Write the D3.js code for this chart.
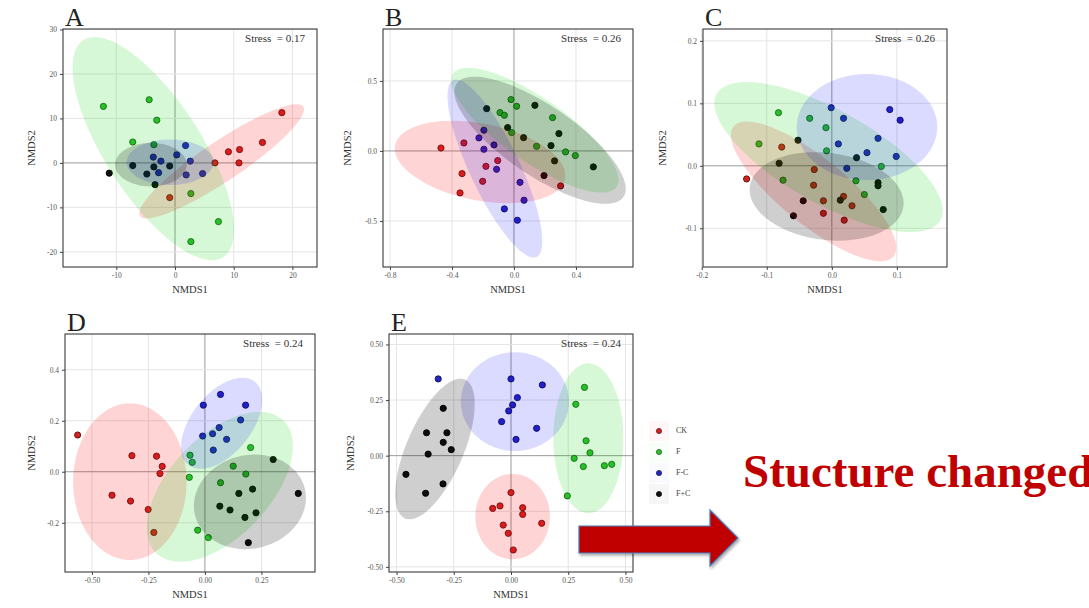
<!DOCTYPE html>
<html><head><meta charset="utf-8">
<script src="https://cdn.jsdelivr.net/npm/d3@7"></script>
<style>
html,body{margin:0;padding:0;background:#fff;}
svg{display:block;font-family:"Liberation Serif","Times New Roman",serif;}
</style></head><body>
<svg id="fig" width="1089" height="608"></svg>
<script>
// ---- groups ----
const groups = ["CK", "F", "F-C", "F+C"];

// ---- NMDS site scores, [NMDS1, NMDS2] per group ----
const ptsA_CK  = [[18.2,11.3],[14.9,4.6],[11.0,3.0],[9.1,2.5],[10.9,0.0],[6.8,0.0],[-0.9,-7.8]];
const ptsA_F   = [[-12.2,12.7],[-4.4,14.2],[-3.1,9.6],[-7.2,4.7],[-3.6,4.1],[2.7,-6.9],[7.4,-13.2],[2.7,-17.7]];
const ptsA_FC  = [[1.8,3.9],[0.3,1.8],[-3.7,1.3],[-2.4,0.4],[2.6,0.4],[-2.8,-2.2],[1.9,-2.7],[4.7,-2.4]];
const ptsA_FpC = [[-11.2,-2.3],[-7.2,-0.6],[-3.6,-0.9],[-4.8,-2.5],[-3.4,-4.9],[-0.9,-0.7]];

const ptsB_CK  = [[-0.471,0.021],[-0.323,0.057],[-0.335,-0.162],[-0.348,-0.300],[-0.181,-0.110],[-0.202,-0.217],[-0.105,-0.069],[0.301,-0.250]];
const ptsB_F   = [[-0.019,0.367],[0.017,0.319],[-0.090,0.274],[-0.062,0.255],[-0.015,0.131],[0.249,0.238],[0.146,0.033],[0.333,-0.007],[0.396,-0.033]];
const ptsB_FC  = [[-0.194,0.148],[-0.226,0.093],[-0.194,0.012],[-0.129,0.043],[-0.112,-0.131],[0.039,-0.224],[0.065,-0.352],[-0.062,-0.414],[0.022,-0.495]];
const ptsB_FpC = [[-0.176,0.302],[-0.041,0.167],[0.135,0.326],[0.062,0.095],[0.290,0.124],[0.239,0.038],[0.262,-0.071],[0.194,-0.176],[0.512,-0.114]];

const ptsC_CK  = [[-0.131,-0.021],[-0.077,0.030],[-0.027,-0.006],[-0.028,-0.031],[-0.013,-0.056],[-0.013,-0.076],[0.031,-0.064],[0.019,-0.087],[0.018,-0.049]];
const ptsC_F   = [[-0.082,0.085],[-0.034,0.076],[-0.009,0.061],[-0.112,0.035],[-0.008,0.024],[-0.075,-0.023],[0.037,-0.024],[0.076,-0.001],[0.050,-0.046]];
const ptsC_FC  = [[-0.001,0.093],[0.018,0.076],[0.089,0.090],[0.105,0.073],[0.071,0.044],[0.010,0.035],[0.054,0.021],[0.099,0.015],[0.023,-0.004]];
const ptsC_FpC = [[-0.052,0.041],[-0.081,0.004],[-0.044,-0.056],[-0.059,-0.080],[0.013,-0.055],[0.038,0.013],[0.071,-0.027],[0.071,-0.032],[0.079,-0.070]];

const ptsD_CK  = [[-0.563,0.144],[-0.323,0.063],[-0.214,0.061],[-0.189,0.021],[-0.199,-0.007],[-0.411,-0.092],[-0.329,-0.115],[-0.251,-0.148],[-0.226,-0.238]];
const ptsD_F   = [[-0.066,0.065],[-0.056,0.037],[-0.069,-0.022],[0.202,0.095],[0.125,0.022],[0.181,-0.009],[0.069,-0.043],[-0.032,-0.229],[0.015,-0.258]];
const ptsD_FC  = [[0.069,0.303],[-0.007,0.261],[0.180,0.261],[0.158,0.203],[0.063,0.173],[0.034,0.149],[-0.010,0.140],[0.096,0.127],[0.037,0.085]];
const ptsD_FpC = [[0.302,0.048],[0.413,-0.085],[0.211,-0.068],[0.150,-0.085],[0.066,-0.135],[0.111,-0.150],[0.177,-0.179],[0.226,-0.161],[0.192,-0.278]];

const ptsE_CK  = [[0.000,-0.166],[-0.080,-0.237],[-0.048,-0.226],[0.051,-0.234],[0.051,-0.264],[0.134,-0.304],[-0.034,-0.312],[-0.012,-0.349],[0.010,-0.424]];
const ptsE_F   = [[0.321,0.307],[0.283,0.231],[0.328,0.067],[0.345,0.013],[0.276,-0.012],[0.316,-0.049],[0.408,-0.045],[0.440,-0.039],[0.246,-0.181]];
const ptsE_FC  = [[-0.318,0.345],[0.000,0.345],[0.137,0.318],[0.028,0.261],[0.007,0.228],[-0.010,0.201],[-0.041,0.153],[0.112,0.123],[0.022,0.073]];
const ptsE_FpC = [[-0.296,0.213],[-0.369,0.103],[-0.280,0.103],[-0.296,0.060],[-0.261,0.027],[-0.362,0.007],[-0.459,-0.084],[-0.297,-0.127],[-0.373,-0.169]];

// ---- group ellipses: [centre1, centre2, axisA1, axisA2, axisB1, axisB2] (CK, F, F-C, F+C) ----
const ellA = [[7.95,0.37,13.9,12.3,1.9,-3.7],[-3.7,3.2,11.9,-24.4,-6.9,-5.8],[-0.85,0.15,7.4,0,0,5.1],[-4.1,-0.4,6.1,0,0,4.9]];
const ellB = [[-0.219,-0.079,0.548,-0.119,-0.047,-0.269],[0.135,0.148,0.527,-0.405,-0.116,-0.186],[-0.123,-0.126,0.269,-0.631,-0.146,-0.076],[0.168,0.076,0.538,-0.405,-0.129,-0.205]];
const ellC = [[-0.028,-0.041,0.123,-0.104,-0.032,-0.041],[-0.005,0.014,0.172,-0.101,-0.035,-0.065],[0.054,0.062,0.108,0,0,0.085],[-0.008,-0.049,0.118,-0.016,-0.009,-0.069]];
const ellD = [[-0.332,-0.039,0.251,0,0,0.307],[0.066,-0.059,0.280,0.261,0.161,-0.135],[0.074,0.190,0.147,0.163,0.103,-0.073],[0.199,-0.118,0.243,0.052,0.049,-0.178]];
const ellE = [[0.007,-0.274,0.163,0,0,0.192],[0.338,0.078,0.153,0,0,0.337],[0.017,0.243,0.236,0,0,0.222],[-0.332,0.030,0.131,0.312,0.114,-0.051]];

// ---- stress values ----
const stressVals = ["0.17", "0.26", "0.26", "0.24", "0.24"];

// ---- axis limits and ticks ----
const limA_x = [-19.08, 24.19], limA_y = [-23.4, 30.1];
const limB_x = [-0.845, 0.768], limB_y = [-0.829, 0.871];
const limC_x = [-0.198, 0.177], limC_y = [-0.162, 0.219];
const limD_x = [-0.619, 0.487], limD_y = [-0.393, 0.54];
const limE_x = [-0.533, 0.533], limE_y = [-0.523, 0.547];

const ticksA_x = [-10, 0, 10, 20],             labelsA_x = ["-10", "0", "10", "20"];
const ticksA_y = [30, 20, 10, 0, -10, -20],    labelsA_y = ["30", "20", "10", "0", "-10", "-20"];
const ticksB_x = [-0.8, -0.4, 0, 0.4],         labelsB_x = ["-0.8", "-0.4", "0.0", "0.4"];
const ticksB_y = [0.5, 0, -0.5],               labelsB_y = ["0.5", "0.0", "-0.5"];
const ticksC_x = [-0.2, -0.1, 0, 0.1],         labelsC_x = ["-0.2", "-0.1", "0.0", "0.1"];
const ticksC_y = [0.2, 0.1, 0, -0.1],          labelsC_y = ["0.2", "0.1", "0.0", "-0.1"];
const ticksD_x = [-0.5, -0.25, 0, 0.25],       labelsD_x = ["-0.50", "-0.25", "0.00", "0.25"];
const ticksD_y = [0.4, 0.2, 0, -0.2],          labelsD_y = ["0.4", "0.2", "0.0", "-0.2"];
const ticksE_x = [-0.5, -0.25, 0, 0.25, 0.5],  labelsE_x = ["-0.50", "-0.25", "0.00", "0.25", "0.50"];
const ticksE_y = [0.5, 0.25, 0, -0.25, -0.5],  labelsE_y = ["0.50", "0.25", "0.00", "-0.25", "-0.50"];

// ---- styling ----
const pointFill  = {"CK": "#d42222", "F": "#2fbd2f", "F-C": "#2626c8", "F+C": "#111111"};
const pointEdge  = {"CK": "#5a1010", "F": "#1a5a1a", "F-C": "#10104a", "F+C": "#000000"};
const ellFill    = {"CK": "#ff0000", "F": "#00d400", "F-C": "#0000ff", "F+C": "#000000"};
const ellOpacity = {"CK": 0.17, "F": 0.16, "F-C": 0.14, "F+C": 0.19};

const panels = [
  {key: "A", box: [63, 317, 29, 267],  lx: limA_x, ly: limA_y, tx: ticksA_x, lbx: labelsA_x, ty: ticksA_y, lby: labelsA_y,
   pts: [ptsA_CK, ptsA_F, ptsA_FC, ptsA_FpC], ell: ellA, stress: stressVals[0], ytitleX: 33},
  {key: "B", box: [383, 633, 29, 267], lx: limB_x, ly: limB_y, tx: ticksB_x, lbx: labelsB_x, ty: ticksB_y, lby: labelsB_y,
   pts: [ptsB_CK, ptsB_F, ptsB_FC, ptsB_FpC], ell: ellB, stress: stressVals[1], ytitleX: 349},
  {key: "C", box: [703, 947, 29, 267], lx: limC_x, ly: limC_y, tx: ticksC_x, lbx: labelsC_x, ty: ticksC_y, lby: labelsC_y,
   pts: [ptsC_CK, ptsC_F, ptsC_FC, ptsC_FpC], ell: ellC, stress: stressVals[2], ytitleX: 664},
  {key: "D", box: [65, 315, 334, 572], lx: limD_x, ly: limD_y, tx: ticksD_x, lbx: labelsD_x, ty: ticksD_y, lby: labelsD_y,
   pts: [ptsD_CK, ptsD_F, ptsD_FC, ptsD_FpC], ell: ellD, stress: stressVals[3], ytitleX: 33},
  {key: "E", box: [389, 633, 334, 572], lx: limE_x, ly: limE_y, tx: ticksE_x, lbx: labelsE_x, ty: ticksE_y, lby: labelsE_y,
   pts: [ptsE_CK, ptsE_F, ptsE_FC, ptsE_FpC], ell: ellE, stress: stressVals[4], ytitleX: 352}
];

const svg = d3.select("#fig");
const defs = svg.append("defs");

const shadow = defs.append("filter").attr("id", "arrowShadow")
  .attr("x", "-10%").attr("y", "-20%").attr("width", "130%").attr("height", "160%");
shadow.append("feDropShadow").attr("dx", 1.2).attr("dy", 2).attr("stdDeviation", 1.6)
  .attr("flood-color", "#000").attr("flood-opacity", 0.35);

const ellipseLine = d3.line().curve(d3.curveLinearClosed);
const angles = d3.range(0, 2 * Math.PI, Math.PI / 60);

panels.forEach(p => {
  const [x0, x1, y0, y1] = p.box;
  const x = d3.scaleLinear().domain(p.lx).range([x0, x1]);
  const y = d3.scaleLinear().domain(p.ly).range([y1, y0]);
  const g = svg.append("g");

  defs.append("clipPath").attr("id", "clip" + p.key)
    .append("rect").attr("x", x0).attr("y", y0).attr("width", x1 - x0).attr("height", y1 - y0);

  // grid
  const grid = g.append("g");
  grid.selectAll(".gx").data(p.tx).join("line")
    .attr("x1", d => x(d)).attr("x2", d => x(d)).attr("y1", y0).attr("y2", y1)
    .attr("stroke", d => d === 0 ? "#9a9a9a" : "#e4e4e4").attr("stroke-width", 1);
  grid.selectAll(".gy").data(p.ty).join("line")
    .attr("y1", d => y(d)).attr("y2", d => y(d)).attr("x1", x0).attr("x2", x1)
    .attr("stroke", d => d === 0 ? "#9a9a9a" : "#e4e4e4").attr("stroke-width", 1);

  const plot = g.append("g").attr("clip-path", `url(#clip${p.key})`);

  // sample points
  groups.forEach((grp, gi) => {
    plot.append("g").selectAll("circle").data(p.pts[gi]).join("circle")
      .attr("cx", d => x(d[0])).attr("cy", d => y(d[1])).attr("r", 3.1)
      .attr("fill", pointFill[grp]).attr("stroke", pointEdge[grp]).attr("stroke-width", 0.9);
  });

  // group ellipses
  groups.forEach((grp, gi) => {
    const e = p.ell[gi];
    const ring = angles.map(t => [
      x(e[0] + Math.cos(t) * e[2] + Math.sin(t) * e[4]),
      y(e[1] + Math.cos(t) * e[3] + Math.sin(t) * e[5])
    ]);
    plot.append("path").attr("d", ellipseLine(ring))
      .attr("fill", ellFill[grp]).attr("fill-opacity", ellOpacity[grp]).attr("stroke", "none");
  });

  // axes
  const xa = d3.axisBottom(x).tickValues(p.tx).tickFormat((d, i) => p.lbx[i]).tickSize(3).tickPadding(3);
  const ya = d3.axisLeft(y).tickValues(p.ty).tickFormat((d, i) => p.lby[i]).tickSize(3).tickPadding(3);
  const gx = g.append("g").attr("transform", `translate(0,${y1})`).call(xa);
  const gy = g.append("g").attr("transform", `translate(${x0},0)`).call(ya);
  [gx, gy].forEach(a => {
    a.select(".domain").remove();
    a.selectAll("line").attr("stroke", "#444");
    a.selectAll("text").attr("font-family", "Liberation Serif, serif").attr("font-size", 7.5).attr("fill", "#555");
  });

  // panel frame
  g.append("rect").attr("x", x0).attr("y", y0).attr("width", x1 - x0).attr("height", y1 - y0)
    .attr("fill", "none").attr("stroke", "#3a3a3a").attr("stroke-width", 1.1);

  // titles
  g.append("text").attr("x", (x0 + x1) / 2).attr("y", y1 + 26).attr("text-anchor", "middle")
    .attr("font-size", 10.5).attr("fill", "#333").text("NMDS1");
  g.append("text").attr("transform", `translate(${p.ytitleX},${(y0 + y1) / 2}) rotate(-90)`)
    .attr("text-anchor", "middle").attr("dominant-baseline", "middle")
    .attr("font-size", 10.5).attr("fill", "#333").text("NMDS2");
  g.append("text").attr("x", x0 + 2).attr("y", y0 - 3).attr("font-size", 26).attr("fill", "#222").text(p.key);
  g.append("text").attr("x", x1 - 12).attr("y", y0 + 13).attr("text-anchor", "end")
    .attr("font-size", 11).attr("fill", "#333").attr("xml:space", "preserve").text("Stress  = " + p.stress);
});

// legend
const leg = svg.append("g");
groups.forEach((grp, i) => {
  const cy = 431 + i * 21;
  leg.append("rect").attr("x", 649).attr("y", cy - 10).attr("width", 20).attr("height", 20)
    .attr("fill", ellFill[grp]).attr("fill-opacity", ellOpacity[grp] * 0.18);
  leg.append("circle").attr("cx", 659).attr("cy", cy).attr("r", 2.6)
    .attr("fill", pointFill[grp]).attr("stroke", pointEdge[grp]).attr("stroke-width", 0.7);
  leg.append("text").attr("x", 676).attr("y", cy).attr("dominant-baseline", "middle")
    .attr("font-size", 8).attr("fill", "#444").text(grp);
});

// arrow and caption
svg.append("path")
  .attr("d", "M579,526 L710,526 L710,510 L738,538 L710,566 L710,553 L579,553 Z")
  .attr("fill", "#c00000").attr("stroke", "#4a7ebb").attr("stroke-width", 1.2)
  .attr("filter", "url(#arrowShadow)");
svg.append("text").attr("x", 743).attr("y", 487)
  .attr("font-family", "Liberation Serif, Times New Roman, serif").attr("font-weight", "bold")
  .attr("font-size", 47).attr("fill", "#c00000").text("Stucture changed");
</script>
</body></html>
